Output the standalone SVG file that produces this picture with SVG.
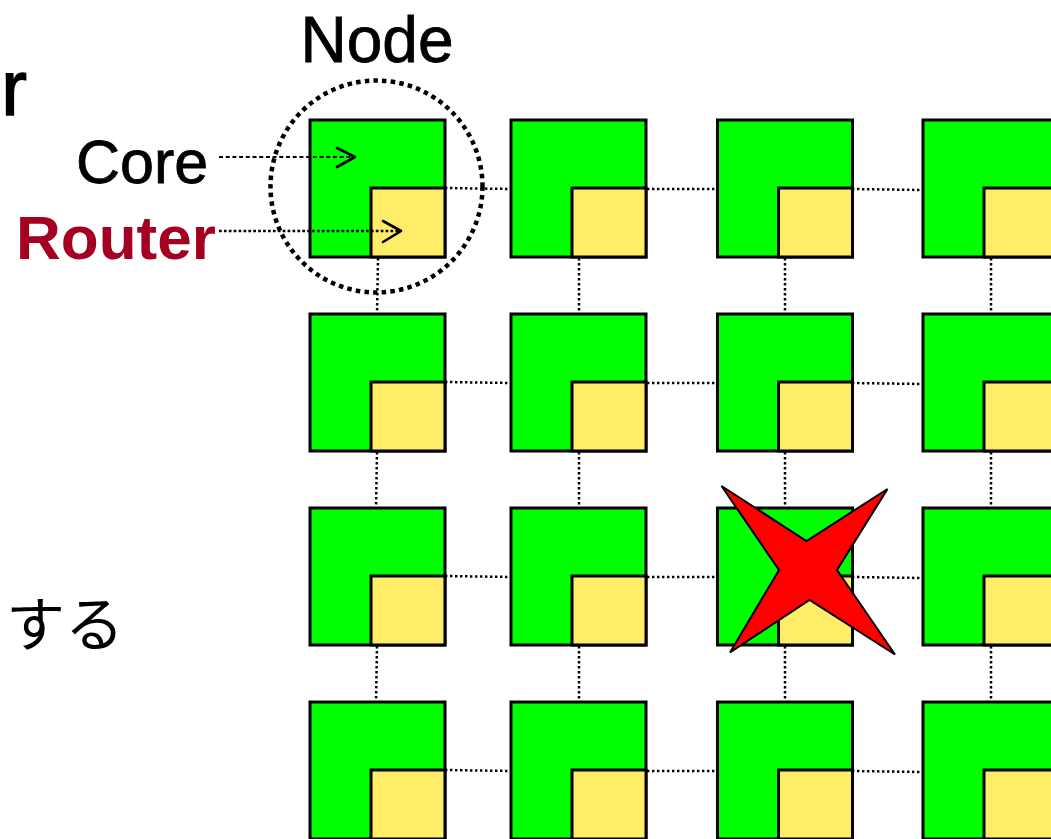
<svg xmlns="http://www.w3.org/2000/svg" width="1051" height="839" viewBox="0 0 1051 839">
  <style>
    .core { fill: #00FF00; stroke: #000; stroke-width: 3; }
    .router { fill: #FFEC67; stroke: #000; stroke-width: 3; }
    .link { stroke: #000; stroke-width: 2.5; stroke-dasharray: 2.4 2.6; fill: none; }
    .lbl { font-family: "Liberation Sans", "Noto Sans", sans-serif; fill: #000; }
    .arrowhead { fill: none; stroke: #000; stroke-width: 2.6; stroke-linecap: round; stroke-linejoin: round; }
  </style>
  <defs>
    <g id="node">
      <rect class="core" x="0" y="0" width="135" height="137"/>
      <rect class="router" x="61" y="68" width="74" height="69"/>
    </g>
  </defs>
  <rect width="1051" height="839" fill="#fff"/>

  <g id="connectors">
    <!-- horizontal links -->
    <line class="link" x1="445" y1="188" x2="511" y2="189"/>
    <line class="link" x1="647" y1="189" x2="717" y2="189"/>
    <line class="link" x1="852" y1="189" x2="923" y2="190"/>
    <line class="link" x1="445" y1="382" x2="511" y2="383"/>
    <line class="link" x1="647" y1="383" x2="717" y2="383"/>
    <line class="link" x1="852" y1="383" x2="923" y2="384"/>
    <line class="link" x1="445" y1="576" x2="511" y2="577"/>
    <line class="link" x1="647" y1="577" x2="717" y2="577"/>
    <line class="link" x1="852" y1="577" x2="923" y2="578"/>
    <line class="link" x1="445" y1="770" x2="511" y2="771"/>
    <line class="link" x1="647" y1="771" x2="717" y2="771"/>
    <line class="link" x1="852" y1="771" x2="923" y2="772"/>
    <!-- vertical links -->
    <line class="link" x1="378" y1="258" x2="377" y2="314"/>
    <line class="link" x1="377" y1="452" x2="376" y2="508"/>
    <line class="link" x1="377" y1="646" x2="376" y2="702"/>
    <line class="link" x1="579" y1="258" x2="579" y2="314"/>
    <line class="link" x1="579" y1="452" x2="579" y2="508"/>
    <line class="link" x1="579" y1="646" x2="579" y2="702"/>
    <line class="link" x1="785" y1="258" x2="785" y2="314"/>
    <line class="link" x1="785" y1="452" x2="785" y2="508"/>
    <line class="link" x1="785" y1="646" x2="785" y2="702"/>
    <line class="link" x1="991" y1="258" x2="991" y2="314"/>
    <line class="link" x1="991" y1="452" x2="991" y2="508"/>
    <line class="link" x1="991" y1="646" x2="991" y2="702"/>
  </g>

  <g id="node-r1c1"><use href="#node" x="310" y="120"/></g>
  <g id="node-r1c2"><use href="#node" x="511" y="120"/></g>
  <g id="node-r1c3"><use href="#node" x="717.5" y="120"/></g>
  <g id="node-r1c4"><use href="#node" x="923" y="120"/></g>
  <g id="node-r2c1"><use href="#node" x="310" y="314"/></g>
  <g id="node-r2c2"><use href="#node" x="511" y="314"/></g>
  <g id="node-r2c3"><use href="#node" x="717.5" y="314"/></g>
  <g id="node-r2c4"><use href="#node" x="923" y="314"/></g>
  <g id="node-r3c1"><use href="#node" x="310" y="508"/></g>
  <g id="node-r3c2"><use href="#node" x="511" y="508"/></g>
  <g id="node-r3c3"><use href="#node" x="717.5" y="508"/></g>
  <g id="node-r3c4"><use href="#node" x="923" y="508"/></g>
  <g id="node-r4c1"><use href="#node" x="310" y="702"/></g>
  <g id="node-r4c2"><use href="#node" x="511" y="702"/></g>
  <g id="node-r4c3"><use href="#node" x="717.5" y="702"/></g>
  <g id="node-r4c4"><use href="#node" x="923" y="702"/></g>

  <g id="node-highlight">
    <circle cx="376.5" cy="186.5" r="106" fill="none" stroke="#000" stroke-width="4.5" stroke-dasharray="4.5 4.2"/>
    <text class="lbl" x="377" y="62" font-size="64" text-anchor="middle" stroke="#000" stroke-width="0.8">Node</text>
  </g>

  <g id="core-label">
    <text class="lbl" x="76" y="183" font-size="61" stroke="#000" stroke-width="0.8">Core</text>
    <line x1="219" y1="157" x2="352" y2="157" stroke="#000" stroke-width="2.2" stroke-dasharray="4 2.7"/>
    <polyline class="arrowhead" points="337,148 355,157 337,167"/>
  </g>

  <g id="router-label">
    <text x="16" y="259" font-size="62" font-weight="bold" fill="#A50021" font-family="Liberation Sans, Noto Sans, sans-serif">Router</text>
    <line x1="219" y1="231" x2="398" y2="231" stroke="#000" stroke-width="2.7" stroke-dasharray="2.7 2.2"/>
    <polyline class="arrowhead" points="383,221 401,231 383,242"/>
  </g>

  <g id="fault">
    <polygon points="721.5,486 806.5,541 887.5,489 837,570 895,654.5 809.5,600 730,652.5 779,570" fill="#FF0000" stroke="#000" stroke-width="2" stroke-linejoin="miter"/>
  </g>

  <text class="lbl" x="27" y="115" font-size="77" text-anchor="end" stroke="#000" stroke-width="1.5">r</text>
  <text x="6" y="646" font-size="59" font-family="Noto Sans CJK JP, sans-serif" fill="#000">する</text>
</svg>
